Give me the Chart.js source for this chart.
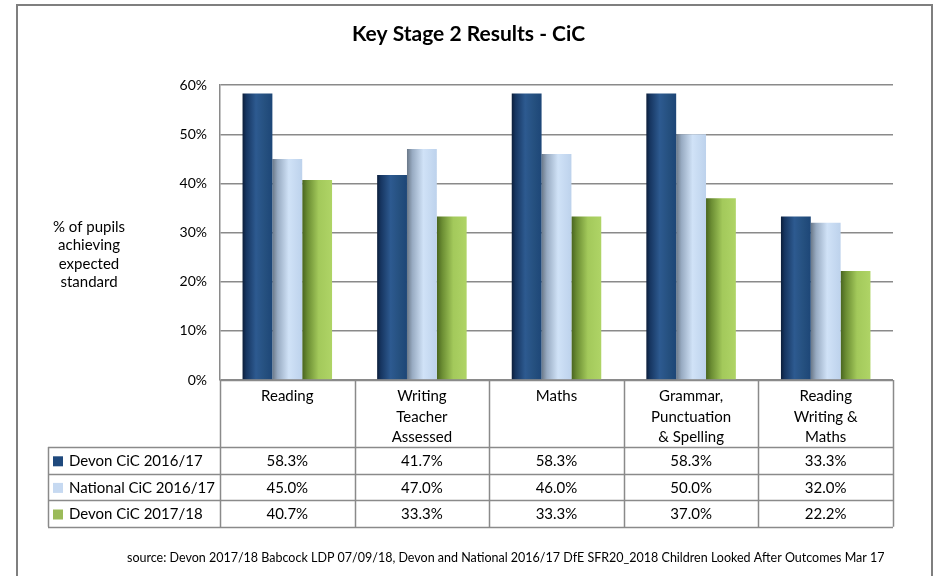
<!DOCTYPE html>
<html>
<head>
<meta charset="utf-8">
<script src="https://cdn.jsdelivr.net/npm/chart.js@4"></script>
<style>
  html, body { margin: 0; padding: 0; background: #ffffff; }
  #wrap { width: 937px; height: 576px; }
</style>
</head>
<body>
<div id="wrap"><canvas id="c" width="937" height="576"></canvas></div>
<script>
// ---- Data ----
const categories = [
  ["Reading"],
  ["Writing", "Teacher", "Assessed"],
  ["Maths"],
  ["Grammar,", "Punctuation", "& Spelling"],
  ["Reading", "Writing &", "Maths"]
];
const seriesNames = ["Devon CiC 2016/17", "National CiC 2016/17", "Devon CiC 2017/18"];
const devon1617 = [58.3, 41.7, 58.3, 58.3, 33.3];
const national1617 = [45.0, 47.0, 46.0, 50.0, 32.0];
const devon1718 = [40.7, 33.3, 33.3, 37.0, 22.2];
const yTicks = [0, 10, 20, 30, 40, 50, 60];
const titleText = "Key Stage 2 Results - CiC";
const yTitleLines = ["% of pupils", "achieving", "expected", "standard"];
const sourceText = "source: Devon 2017/18 Babcock LDP 07/09/18, Devon and National 2016/17 DfE SFR20_2018 Children Looked After Outcomes Mar 17";

// ---- Styles ----
const FONT = "Lato, 'Open Sans', sans-serif";
const CAT_PCT = 0.665;
const keyColors = ["#1f497d", "#c6d9f1", "#9bbb59"];
const gradStops = [
  [[0, "#0c1e3a"], [0.12, "#163560"], [0.45, "#2d5a90"], [0.75, "#25507f"], [1, "#1d4677"]],
  [[0, "#6a7888"], [0.18, "#98abc2"], [0.55, "#d0e2f7"], [1, "#bdd2ec"]],
  [[0, "#48641f"], [0.18, "#6b8d33"], [0.55, "#a3c95b"], [1, "#afd466"]]
];
const gridColor = "#8a8a8a";

function barFill(ctx) {
  const chart = ctx.chart;
  const xs = chart.scales && chart.scales.x;
  const stops = gradStops[ctx.datasetIndex];
  if (!xs || ctx.type !== 'data' || !isFinite(xs.width)) return stops[stops.length - 1][1];
  const cat = xs.width / categories.length;
  const group = cat * CAT_PCT;
  const bw = group / seriesNames.length;
  const center = xs.getPixelForValue(ctx.dataIndex);
  const left = center - group / 2 + ctx.datasetIndex * bw;
  const g = chart.ctx.createLinearGradient(left, 0, left + bw, 0);
  stops.forEach(s => g.addColorStop(s[0], s[1]));
  return g;
}

const seriesValues = [devon1617, national1617, devon1718];

const tablePlugin = {
  id: 'tablePlugin',
  afterDraw(chart) {
    const c = chart.ctx;
    const xs = chart.scales.x;
    const ca = chart.chartArea;
    const n = categories.length;
    const cat = (xs.right - xs.left) / n;
    const top = ca.bottom;
    const headerBottom = xs.bottom;
    const rowH = 26.6;
    const tableLeft = 48;
    const tableBottom = headerBottom + rowH * 3;

    c.save();
    // Outer frame
    c.strokeStyle = "#7f7f7f";
    c.lineWidth = 2;
    c.strokeRect(17, 5, 915, 640);

    // Table lines
    c.strokeStyle = gridColor;
    c.lineWidth = 1.5;
    c.beginPath();
    for (let i = 0; i <= n; i++) {
      const x = Math.round(xs.left + i * cat) + 0.5;
      c.moveTo(x, top);
      c.lineTo(x, tableBottom);
    }
    c.moveTo(tableLeft + 0.5, headerBottom);
    c.lineTo(tableLeft + 0.5, tableBottom);
    c.moveTo(xs.left, top + 0.5);
    c.lineTo(xs.right, top + 0.5);
    for (let r = 0; r <= 3; r++) {
      const y = Math.round(headerBottom + r * rowH) + 0.5;
      c.moveTo(tableLeft, y);
      c.lineTo(xs.right, y);
    }
    c.stroke();

    // Rows
    c.font = "15px " + FONT;
    c.textBaseline = "middle";
    for (let r = 0; r < 3; r++) {
      const yMid = headerBottom + r * rowH + rowH / 2 + 1;
      c.fillStyle = keyColors[r];
      c.fillRect(53, yMid - 5, 10, 10);
      c.fillStyle = "#000";
      c.textAlign = "left";
      c.fillText(seriesNames[r], 69, yMid);
      c.textAlign = "center";
      for (let i = 0; i < n; i++) {
        const x = xs.getPixelForValue(i);
        c.fillText(seriesValues[r][i].toFixed(1) + "%", x, yMid);
      }
    }

    // Y axis title (horizontal, multi-line)
    c.textAlign = "center";
    c.font = "15px " + FONT;
    yTitleLines.forEach((t, i) => c.fillText(t, 89, 227 + i * 18.5));

    // Source
    c.font = "12.5px " + FONT;
    c.textAlign = "left";
    c.fillText(sourceText, 127, 558);
    c.restore();
  }
};

new Chart(document.getElementById('c'), {
  type: 'bar',
  data: {
    labels: categories,
    datasets: seriesNames.map((name, i) => ({
      label: name,
      data: seriesValues[i],
      backgroundColor: barFill,
      borderWidth: 0,
      categoryPercentage: CAT_PCT,
      barPercentage: 1.0
    }))
  },
  options: {
    responsive: false,
    animation: false,
    devicePixelRatio: 1,
    layout: { padding: { left: 44, right: 44, top: 0, bottom: 129 } },
    plugins: {
      legend: { display: false },
      tooltip: { enabled: false },
      title: {
        display: true,
        text: titleText,
        color: "#000",
        font: { family: FONT, size: 21, weight: 'bold' },
        padding: { top: 22, bottom: 38 }
      }
    },
    scales: {
      x: {
        grid: { display: false, drawTicks: false },
        border: { display: false },
        ticks: {
          color: "#000",
          font: { family: FONT, size: 15, lineHeight: 1.37 },
          padding: 6,
          maxRotation: 0,
          autoSkip: false
        },
        afterFit(scale) { scale.height = 67; }
      },
      y: {
        min: 0,
        max: 60,
        afterBuildTicks(scale) { scale.ticks = yTicks.map(v => ({ value: v })); },
        grid: { color: gridColor, lineWidth: 1.5, drawTicks: false },
        border: { display: true, color: gridColor, width: 1.5 },
        ticks: {
          color: "#000",
          font: { family: FONT, size: 14 },
          padding: 13,
          callback: v => v + "%"
        },
        afterFit(scale) { scale.width = 176; }
      }
    }
  },
  plugins: [tablePlugin]
});
</script>
</body>
</html>
